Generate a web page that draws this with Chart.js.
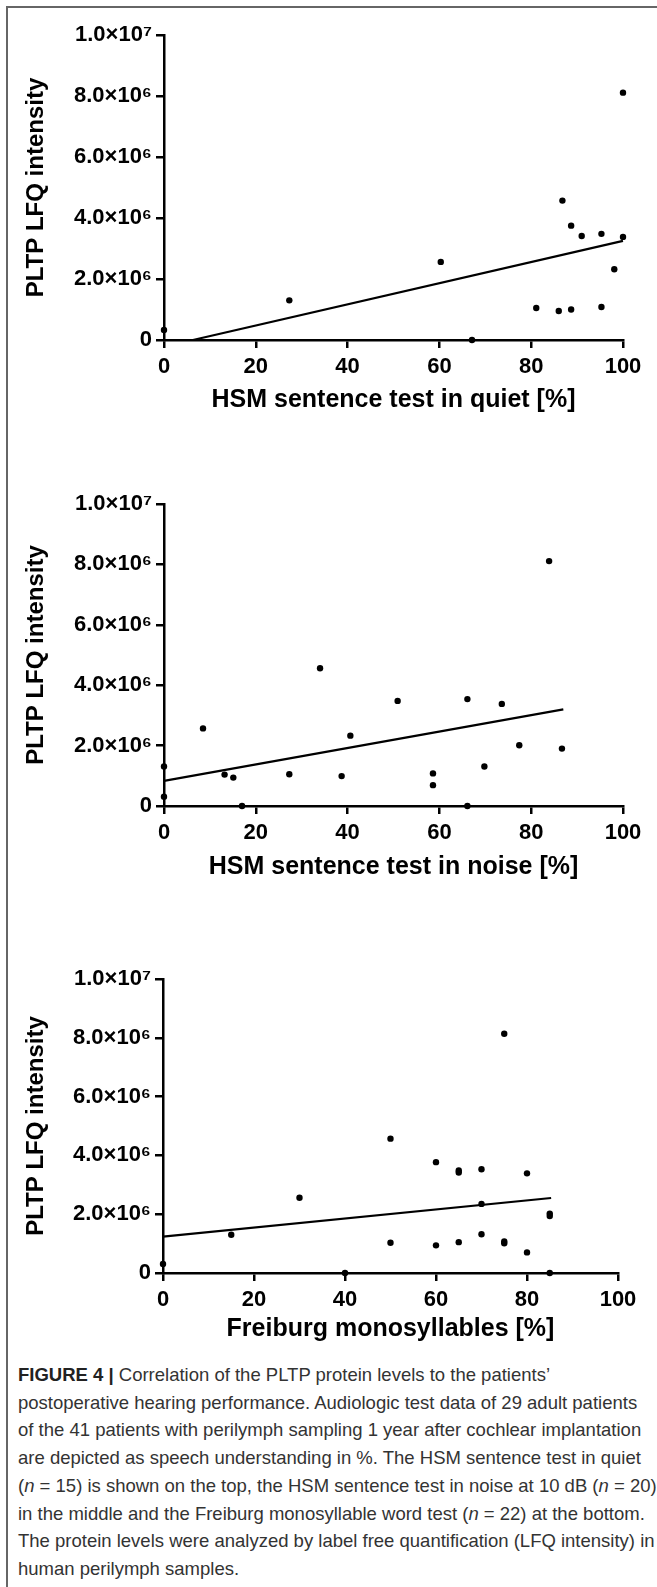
<!DOCTYPE html>
<html lang="en">
<head>
<meta charset="utf-8" />
<title>PLTP LFQ intensity vs. hearing performance</title>
<script src="https://cdn.jsdelivr.net/npm/chart.js@4.4.1/dist/chart.umd.min.js"></script>
<style>
  html, body { margin: 0; padding: 0; background: #fff; }
  body { width: 657px; height: 1587px; position: relative; overflow: hidden; }
  .frame { position: absolute; left: 6px; top: 6px; width: 700px; height: 1700px;
           border-left: 2px solid #666; border-top: 2px solid #666; }
  canvas { position: absolute; left: 0; }
  .caption { position: absolute; left: 18px; top: 1361px; font-family: "Liberation Sans", Arial, sans-serif;
             font-size: 18.5px; line-height: 27.7px; color: #333; white-space: nowrap; }
  .caption b { color: #222; }
</style>
</head>
<body>
<div class="frame"></div>
<canvas id="quiet" width="657" height="430" style="top:0px"></canvas>
<canvas id="noise" width="657" height="430" style="top:460px"></canvas>
<canvas id="freiburg" width="657" height="420" style="top:930px"></canvas>

<div class="caption">
<b>FIGURE 4 |</b> Correlation of the PLTP protein levels to the patients’<br>
postoperative hearing performance. Audiologic test data of 29 adult patients<br>
of the 41 patients with perilymph sampling 1 year after cochlear implantation<br>
are depicted as speech understanding in %. The HSM sentence test in quiet<br>
(<i>n</i> = 15) is shown on the top, the HSM sentence test in noise at 10 dB (<i>n</i> = 20)<br>
in the middle and the Freiburg monosyllable word test (<i>n</i> = 22) at the bottom.<br>
The protein levels were analyzed by label free quantification (LFQ intensity) in<br>
human perilymph samples.
</div>

<script>
// tick labels shared by the three panels
var xTickLabels = ['0', '20', '40', '60', '80', '100'];
var yTickLabels = ['0', '2.0×10⁶', '4.0×10⁶', '6.0×10⁶', '8.0×10⁶', '1.0×10⁷'];
var yTitle = 'PLTP LFQ intensity';

// HSM sentence test in quiet (n = 15)
var quietX = [0, 27.3, 60.3, 67.1, 81.1, 86.0, 88.7, 86.8, 88.7, 91.0, 95.3, 95.3, 98.1, 100, 100];
var quietY = [0.33e6, 1.30e6, 2.56e6, 0, 1.05e6, 0.95e6, 1.00e6, 4.57e6, 3.75e6, 3.41e6, 3.48e6, 1.08e6, 2.32e6, 8.11e6, 3.38e6];
var quietFitX = [6.3, 100];
var quietFitY = [0, 3.25e6];

// HSM sentence test in noise (n = 20)
var noiseX = [0, 0, 8.5, 13.2, 15.1, 17.0, 27.3, 34.0, 38.7, 40.6, 50.9, 58.6, 58.6, 66.1, 66.1, 69.8, 73.6, 77.4, 83.9, 86.7];
var noiseY = [1.31e6, 0.31e6, 2.57e6, 1.04e6, 0.94e6, 0, 1.05e6, 4.56e6, 0.99e6, 2.33e6, 3.48e6, 1.08e6, 0.69e6, 3.54e6, 0, 1.31e6, 3.38e6, 2.01e6, 8.11e6, 1.90e6];
var noiseFitX = [0, 87];
var noiseFitY = [0.83e6, 3.2e6];

// Freiburg monosyllables (n = 22)
var frX = [0, 15, 30, 40, 50, 50, 60, 60, 65, 65, 65, 70, 70, 70, 75, 75, 75, 80, 80, 85, 85, 85];
var frY = [0.31e6, 1.30e6, 2.56e6, 0, 4.57e6, 1.03e6, 3.77e6, 0.94e6, 3.49e6, 3.42e6, 1.05e6, 3.53e6, 2.35e6, 1.32e6, 8.14e6, 1.07e6, 1.01e6, 3.39e6, 0.70e6, 2.02e6, 1.94e6, 0];
var frFitX = [0, 85.3];
var frFitY = [1.24e6, 2.55e6];

Chart.defaults.font.family = '"Liberation Sans", Arial, sans-serif';
Chart.defaults.color = '#000';

function pairs(xs, ys) {
    return xs.map(function(x, i) { return {x: x, y: ys[i]}; });
}

function axisStyle() {
    return {
        border: {display: true, color: '#000', width: 2.5},
        grid: {display: true, drawOnChartArea: false, drawTicks: true, tickLength: 8, color: '#000', lineWidth: 2.5}
    };
}

// box = plot area inside the canvas, titleY = centre of the x axis title
function makePanel(id, xs, ys, fitX, fitY, xTitle, box) {
    var canvas = document.getElementById(id);
    var W = canvas.width, H = canvas.height;
    var xAxis = axisStyle(), yAxis = axisStyle();

    xAxis.type = 'linear';
    xAxis.min = 0; xAxis.max = 100;
    xAxis.ticks = {stepSize: 20, autoSkip: false, padding: 6, maxRotation: 0,
                   font: {size: 22, weight: 'bold'},
                   callback: function(v, i) { return xTickLabels[i]; }};
    xAxis.title = {display: true, text: xTitle, font: {size: 25, weight: 'bold'},
                   padding: {top: 0, bottom: H - box.titleY - 15}};
    xAxis.afterFit = function(s) { s.height = H - box.bottom; };

    yAxis.type = 'linear';
    yAxis.min = 0; yAxis.max = 1e7;
    yAxis.ticks = {stepSize: 2e6, autoSkip: false, padding: 4,
                   font: {size: 22, weight: 'bold'},
                   callback: function(v, i) { return yTickLabels[i]; }};
    yAxis.title = {display: true, text: yTitle, font: {size: 24, weight: 'bold'},
                   padding: {top: 22, bottom: 0}};
    yAxis.afterFit = function(s) { s.width = box.left; };

    return new Chart(canvas.getContext('2d'), {
        type: 'scatter',
        data: {
            datasets: [
                {data: pairs(xs, ys), pointRadius: 3.2, pointBackgroundColor: '#000',
                 pointBorderWidth: 0, clip: false},
                {type: 'line', data: pairs(fitX, fitY), borderColor: '#000', borderWidth: 2.2,
                 pointRadius: 0, fill: false, clip: false}
            ]
        },
        options: {
            responsive: false,
            animation: false,
            layout: {padding: {left: 0, top: box.top, right: W - box.right, bottom: 0}},
            plugins: {legend: {display: false}, tooltip: {enabled: false}},
            scales: {x: xAxis, y: yAxis}
        }
    });
}

makePanel('quiet', quietX, quietY, quietFitX, quietFitY, 'HSM sentence test in quiet [%]',
          {left: 164, right: 623, top: 35, bottom: 340, titleY: 400});
makePanel('noise', noiseX, noiseY, noiseFitX, noiseFitY, 'HSM sentence test in noise [%]',
          {left: 164, right: 623, top: 44, bottom: 346, titleY: 407});
makePanel('freiburg', frX, frY, frFitX, frFitY, 'Freiburg monosyllables [%]',
          {left: 163, right: 618, top: 49, bottom: 343, titleY: 399});
</script>
</body>
</html>
